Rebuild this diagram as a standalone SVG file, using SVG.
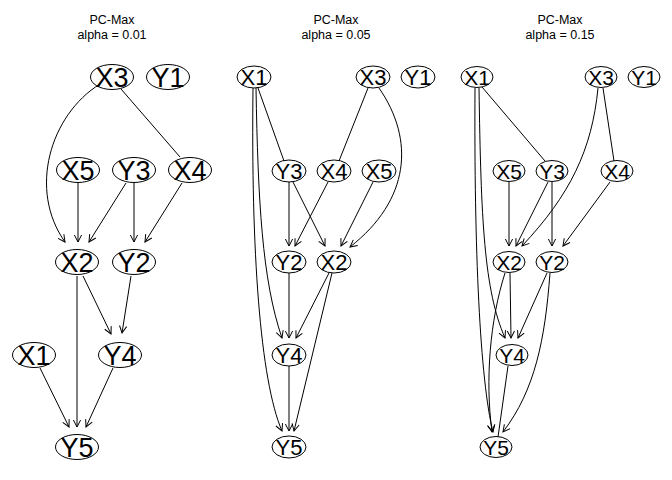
<svg xmlns="http://www.w3.org/2000/svg" width="672" height="480" viewBox="0 0 672 480">
<defs>
<marker id="arr" markerUnits="userSpaceOnUse" markerWidth="10" markerHeight="10" viewBox="-8 -5 9 10" refX="0" refY="0" orient="auto" overflow="visible">
<path d="M-7,-3.6 L0,0 L-7,3.6" fill="none" stroke="#000" stroke-width="1"/>
</marker>
</defs>
<style>
.title{font-family:"Liberation Sans",Arial,sans-serif;font-size:12.5px;fill:#000;text-anchor:middle}
ellipse{fill:none;stroke:#000;stroke-width:1}
.n1{font-family:"Liberation Sans",Arial,sans-serif;font-size:27px;fill:#000;text-anchor:middle}
.n2{font-family:"Liberation Sans",Arial,sans-serif;font-size:22px;fill:#000;text-anchor:middle}
.n3{font-family:"Liberation Sans",Arial,sans-serif;font-size:21px;fill:#000;text-anchor:middle}
.e{fill:none;stroke:#000;stroke-width:1}
.d{marker-end:url(#arr)}
</style>
<rect width="672" height="480" fill="#fff"/>

<!-- Panel 1 -->
<g id="panel1">
<text class="title" x="112" y="24">PC-Max</text>
<text class="title" x="112" y="39">alpha = 0.01</text>
<g id="p1-edges">
<path class="e d" d="M100,84 C50,115 28,190 65,242"/>
<path class="e" d="M121,89 L180,157"/>
<path class="e d" d="M78,183 L78,242"/>
<path class="e d" d="M126,183 L89,242"/>
<path class="e d" d="M134,183 L134,242"/>
<path class="e d" d="M182,183 L145,242"/>
<path class="e d" d="M83,276 L111,334"/>
<path class="e d" d="M131,276 L122,333"/>
<path class="e d" d="M77,276 L77,427"/>
<path class="e d" d="M40,368 L69,427"/>
<path class="e d" d="M113,368 L86,427"/>
</g>
<g id="p1-X3"><ellipse cx="112" cy="77" rx="21.5" ry="12.5"/><text class="n1" x="112" y="86.7">X3</text></g>
<g id="p1-Y1"><ellipse cx="168" cy="77" rx="21.5" ry="12.5"/><text class="n1" x="168" y="86.7">Y1</text></g>
<g id="p1-X5"><ellipse cx="78" cy="170" rx="21.5" ry="12.5"/><text class="n1" x="78" y="179.7">X5</text></g>
<g id="p1-Y3"><ellipse cx="134" cy="170" rx="21.5" ry="12.5"/><text class="n1" x="134" y="179.7">Y3</text></g>
<g id="p1-X4"><ellipse cx="190" cy="170" rx="21.5" ry="12.5"/><text class="n1" x="190" y="179.7">X4</text></g>
<g id="p1-X2"><ellipse cx="77" cy="262" rx="21.5" ry="12.5"/><text class="n1" x="77" y="271.7">X2</text></g>
<g id="p1-Y2"><ellipse cx="134" cy="262" rx="21.5" ry="12.5"/><text class="n1" x="134" y="271.7">Y2</text></g>
<g id="p1-X1"><ellipse cx="34" cy="355" rx="21.5" ry="12.5"/><text class="n1" x="34" y="364.7">X1</text></g>
<g id="p1-Y4"><ellipse cx="120" cy="355" rx="21.5" ry="12.5"/><text class="n1" x="120" y="364.7">Y4</text></g>
<g id="p1-Y5"><ellipse cx="77" cy="447" rx="21.5" ry="12.5"/><text class="n1" x="77" y="456.7">Y5</text></g>
</g>

<!-- Panel 2 -->
<g id="panel2">
<text class="title" x="336" y="24">PC-Max</text>
<text class="title" x="336" y="39">alpha = 0.05</text>
<g id="p2-edges">
<path class="e d" d="M253,88 C251,250 260,380 282,431"/>
<path class="e d" d="M256,88 C258,200 262,280 282,338"/>
<path class="e" d="M258,88 L284,161"/>
<path class="e" d="M368,88 L339,161"/>
<path class="e d" d="M379,88 C415,140 410,200 350,247"/>
<path class="e d" d="M289,182 L289,246"/>
<path class="e d" d="M293,182 L325,246"/>
<path class="e d" d="M328,182 L295,246"/>
<path class="e d" d="M373,182 L341,246"/>
<path class="e d" d="M289,273 L289,338"/>
<path class="e d" d="M329,273 L296,338"/>
<path class="e d" d="M332,273 L294,431"/>
<path class="e d" d="M289,366 L289,431"/>
</g>
<g id="p2-X1"><ellipse cx="254" cy="77" rx="17" ry="11"/><text class="n2" x="254" y="84.9">X1</text></g>
<g id="p2-X3"><ellipse cx="373" cy="77" rx="17" ry="11"/><text class="n2" x="373" y="84.9">X3</text></g>
<g id="p2-Y1"><ellipse cx="418" cy="77" rx="17" ry="11"/><text class="n2" x="418" y="84.9">Y1</text></g>
<g id="p2-Y3"><ellipse cx="289" cy="171" rx="17" ry="11"/><text class="n2" x="289" y="178.9">Y3</text></g>
<g id="p2-X4"><ellipse cx="334" cy="171" rx="17" ry="11"/><text class="n2" x="334" y="178.9">X4</text></g>
<g id="p2-X5"><ellipse cx="379" cy="171" rx="17" ry="11"/><text class="n2" x="379" y="178.9">X5</text></g>
<g id="p2-Y2"><ellipse cx="289" cy="262" rx="17" ry="11"/><text class="n2" x="289" y="269.9">Y2</text></g>
<g id="p2-X2"><ellipse cx="334" cy="262" rx="17" ry="11"/><text class="n2" x="334" y="269.9">X2</text></g>
<g id="p2-Y4"><ellipse cx="289" cy="355" rx="17" ry="11"/><text class="n2" x="289" y="362.9">Y4</text></g>
<g id="p2-Y5"><ellipse cx="289" cy="447" rx="17" ry="11"/><text class="n2" x="289" y="454.9">Y5</text></g>
</g>

<!-- Panel 3 -->
<g id="panel3">
<text class="title" x="560" y="24">PC-Max</text>
<text class="title" x="560" y="39">alpha = 0.15</text>
<g id="p3-edges">
<path class="e d" d="M475,88 C474,250 480,380 493,432"/>
<path class="e d" d="M479,88 C481,220 484,290 505,338"/>
<path class="e" d="M482,87 L545,161"/>
<path class="e" d="M603,88 L614,161"/>
<path class="e d" d="M598,88 C592,150 570,195 522,246"/>
<path class="e d" d="M548,182 L516,246"/>
<path class="e d" d="M552,182 L552,246"/>
<path class="e d" d="M610,182 L563,246"/>
<path class="e d" d="M509,182 L509,246"/>
<path class="e d" d="M510,273 L511,338"/>
<path class="e d" d="M547,273 L518,338"/>
<path class="e d" d="M505,273 C490,320 485,380 492,432"/>
<path class="e" d="M508,366 L498,437"/>
<path class="e d" d="M550,273 C545,340 535,390 503,432"/>
</g>
<g id="p3-X1"><ellipse cx="477" cy="77" rx="16" ry="10.5"/><text class="n3" x="477" y="84.5">X1</text></g>
<g id="p3-X3"><ellipse cx="601" cy="77" rx="16" ry="10.5"/><text class="n3" x="601" y="84.5">X3</text></g>
<g id="p3-Y1"><ellipse cx="644" cy="77" rx="16" ry="10.5"/><text class="n3" x="644" y="84.5">Y1</text></g>
<g id="p3-X5"><ellipse cx="509" cy="171" rx="16" ry="10.5"/><text class="n3" x="509" y="178.5">X5</text></g>
<g id="p3-Y3"><ellipse cx="552" cy="171" rx="16" ry="10.5"/><text class="n3" x="552" y="178.5">Y3</text></g>
<g id="p3-X4"><ellipse cx="617" cy="171" rx="16" ry="10.5"/><text class="n3" x="617" y="178.5">X4</text></g>
<g id="p3-X2"><ellipse cx="509" cy="262" rx="16" ry="10.5"/><text class="n3" x="509" y="269.5">X2</text></g>
<g id="p3-Y2"><ellipse cx="552" cy="262" rx="16" ry="10.5"/><text class="n3" x="552" y="269.5">Y2</text></g>
<g id="p3-Y4"><ellipse cx="512" cy="355" rx="16" ry="10.5"/><text class="n3" x="512" y="362.5">Y4</text></g>
<g id="p3-Y5"><ellipse cx="496" cy="447" rx="16" ry="10.5"/><text class="n3" x="496" y="454.5">Y5</text></g>
</g>
</svg>
